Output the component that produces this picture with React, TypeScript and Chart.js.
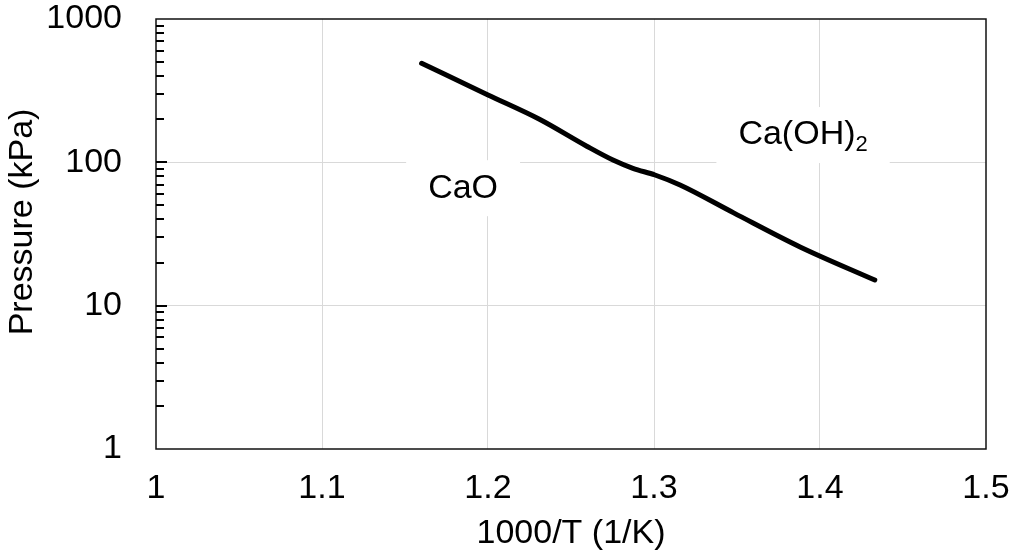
import React, { useEffect, useRef } from 'react';
import { Chart, registerables } from 'chart.js';

Chart.register(...registerables);

// Data
const inverseTemp = [1.16, 1.2, 1.231, 1.2595, 1.2753, 1.2873, 1.3006, 1.3157, 1.348, 1.388, 1.433];
const pressureKPa = [491, 295, 199.6, 129.5, 103.7, 90.8, 81.6, 69.5, 44.4, 25.7, 15.1];
const xTickValues = [1, 1.1, 1.2, 1.3, 1.4, 1.5];
const yTickValues = [1, 10, 100, 1000];
const regionNames = ['CaO', 'Ca(OH)'];
const regionSubscripts = ['', '2'];
const regionX = [1.185, 1.3898];
const regionY = [66, 155];
const xTitle = '1000/T (1/K)';
const yTitle = 'Pressure (kPa)';

const FONT = '"Liberation Sans", Arial, sans-serif';
const FS = 34;

const overlayPlugin = {
  id: 'overlay',
  beforeDatasetsDraw(chart: any) {
    const { ctx, chartArea: a, scales } = chart;
    const xs = scales.x;
    const ys = scales.y;
    ctx.save();
    // region labels with white boxes
    ctx.textBaseline = 'middle';
    for (let i = 0; i < regionNames.length; i++) {
      const cx = xs.getPixelForValue(regionX[i]);
      const cy = ys.getPixelForValue(regionY[i]);
      ctx.font = `${FS}px ${FONT}`;
      const w1 = ctx.measureText(regionNames[i]).width;
      ctx.font = `22px ${FONT}`;
      const w2 = regionSubscripts[i] ? ctx.measureText(regionSubscripts[i]).width : 0;
      const tw = w1 + w2;
      ctx.fillStyle = '#ffffff';
      ctx.fillRect(cx - tw / 2 - 22, cy - 28, tw + 44, 56);
      ctx.fillStyle = '#000000';
      ctx.textAlign = 'left';
      ctx.font = `${FS}px ${FONT}`;
      ctx.fillText(regionNames[i], cx - tw / 2, cy);
      if (regionSubscripts[i]) {
        ctx.font = `22px ${FONT}`;
        ctx.fillText(regionSubscripts[i], cx - tw / 2 + w1, cy + 10);
      }
    }
    // plot border
    ctx.strokeStyle = '#111111';
    ctx.lineWidth = 1.5;
    ctx.strokeRect(a.left, a.top, a.right - a.left, a.bottom - a.top);
    // inward y ticks
    ctx.strokeStyle = '#000000';
    ctx.lineWidth = 2;
    for (let d = 1; d < 1000; d *= 10) {
      for (let m = 1; m <= 9; m++) {
        const v = d * m;
        if (v === 1) continue;
        const py = Math.round(ys.getPixelForValue(v));
        const len = m === 1 ? 11 : 8;
        ctx.beginPath();
        ctx.moveTo(a.left, py);
        ctx.lineTo(a.left + len, py);
        ctx.stroke();
      }
    }
    // y axis title
    ctx.translate(23, (a.top + a.bottom) / 2 - 12);
    ctx.rotate(-Math.PI / 2);
    ctx.textAlign = 'center';
    ctx.textBaseline = 'middle';
    ctx.fillStyle = '#000000';
    ctx.font = `${FS}px ${FONT}`;
    ctx.fillText(yTitle, 0, 0);
    ctx.restore();
  },
};

export default function App() {
  const ref = useRef<HTMLCanvasElement | null>(null);
  useEffect(() => {
    if (!ref.current) return;
    const chart = new Chart(ref.current, {
      type: 'line',
      data: {
        datasets: [
          {
            data: inverseTemp.map((x, i) => ({ x, y: pressureKPa[i] })),
            borderColor: '#000000',
            borderWidth: 5,
            pointRadius: 0,
            cubicInterpolationMode: 'monotone',
            fill: false,
            borderCapStyle: 'round',
            borderJoinStyle: 'round',
          },
        ],
      },
      options: {
        animation: false,
        responsive: false,
        maintainAspectRatio: false,
        layout: { padding: { left: 0, top: 19, right: 30, bottom: 0 } },
        plugins: { legend: { display: false }, tooltip: { enabled: false } },
        scales: {
          x: {
            type: 'linear',
            min: 1,
            max: 1.5,
            afterBuildTicks: (s: any) => {
              s.ticks = xTickValues.map((v) => ({ value: v }));
            },
            afterFit: (s: any) => {
              s.height = 110;
              s.paddingLeft = 0;
              s.paddingRight = 0;
            },
            border: { display: false },
            grid: {
              drawTicks: false,
              lineWidth: 1,
              color: (c: any) =>
                c.tick && (c.tick.value === 1 || c.tick.value === 1.5) ? 'rgba(0,0,0,0)' : '#d9d9d9',
            },
            ticks: {
              padding: 23,
              color: '#000000',
              font: { family: FONT, size: FS, lineHeight: 1 },
              maxRotation: 0,
              callback: (v: any) => String(Math.round(Number(v) * 10) / 10),
            },
            title: {
              display: true,
              text: xTitle,
              color: '#000000',
              font: { family: FONT, size: FS, lineHeight: 1.2 },
              padding: { top: 0, bottom: 5 },
            },
          },
          y: {
            type: 'logarithmic',
            min: 1,
            max: 1000,
            afterBuildTicks: (s: any) => {
              s.ticks = yTickValues.map((v) => ({ value: v }));
            },
            afterFit: (s: any) => {
              s.width = 156;
              s.paddingTop = 0;
              s.paddingBottom = 0;
            },
            border: { display: false },
            grid: {
              drawTicks: false,
              lineWidth: 1,
              color: (c: any) =>
                c.tick && (c.tick.value === 1 || c.tick.value === 1000) ? 'rgba(0,0,0,0)' : '#d9d9d9',
            },
            ticks: {
              padding: 34,
              color: '#000000',
              font: { family: FONT, size: FS, lineHeight: 1 },
              callback: (v: any) => String(v),
            },
            title: { display: false },
          },
        },
      },
      plugins: [overlayPlugin],
    } as any);
    return () => chart.destroy();
  }, []);
  return (
    <div style={{ position: 'absolute', left: 0, top: 0, width: 1016, height: 559, background: '#ffffff' }}>
      <canvas ref={ref} width={1016} height={559} style={{ display: 'block' }} />
    </div>
  );
}
